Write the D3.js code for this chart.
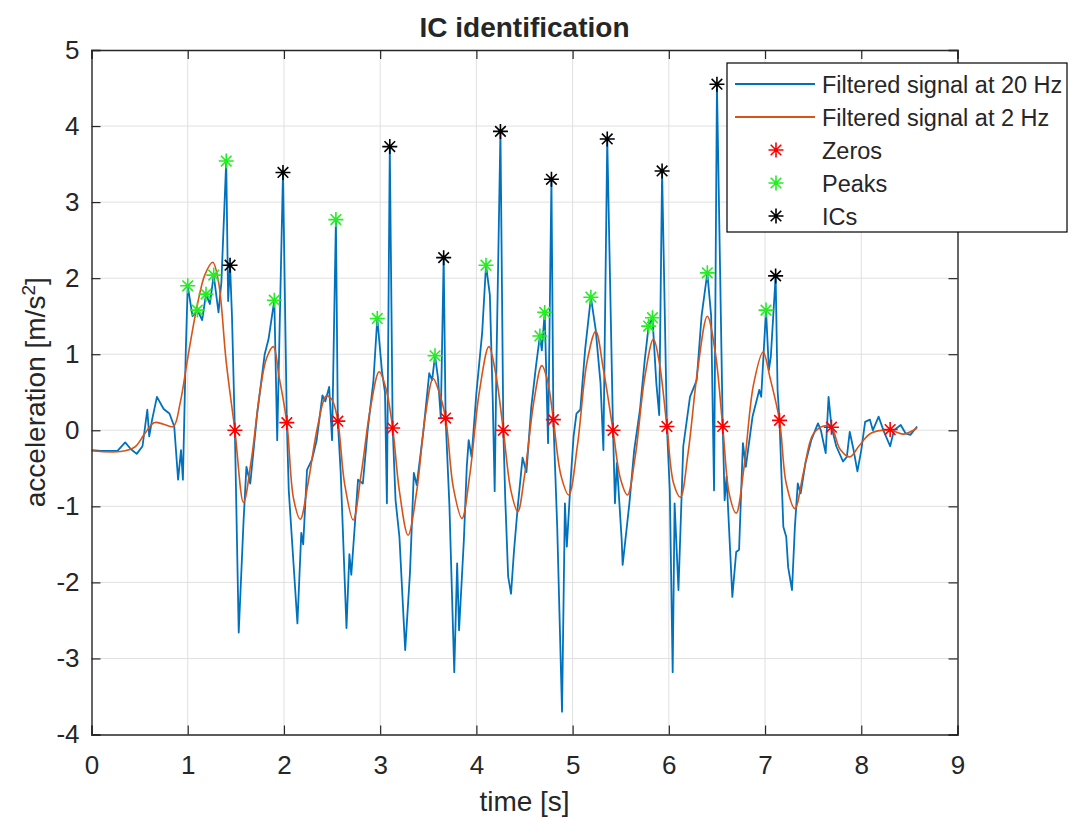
<!DOCTYPE html>
<html>
<head>
<meta charset="utf-8">
<script src="https://cdn.jsdelivr.net/npm/d3@7"></script>
<style>
  body { margin: 0; background: #fff; }
  text { font-family: "Liberation Sans", Arial, sans-serif; fill: #262626; }
</style>
</head>
<body>
<div id="container"></div>
<script>
// 20 Hz filtered signal [time, value]
const sig20 = [
  [0.00,-0.26],[0.10,-0.27],[0.27,-0.27],[0.35,-0.16],[0.41,-0.25],[0.47,-0.31],[0.53,-0.21],[0.58,0.27],
  [0.60,-0.08],[0.63,0.14],[0.68,0.44],[0.75,0.28],[0.81,0.22],[0.86,0.05],[0.90,-0.65],[0.93,-0.26],
  [0.95,-0.65],[0.98,1.05],[1.00,1.90],[1.05,1.50],[1.10,1.58],[1.15,1.45],[1.19,1.79],[1.23,1.66],
  [1.27,2.04],[1.32,1.55],[1.35,1.95],[1.40,3.54],[1.42,1.70],[1.44,2.17],[1.46,1.50],[1.49,0.00],
  [1.53,-2.66],[1.58,-1.20],[1.61,-0.48],[1.65,-0.70],[1.72,0.20],[1.80,1.00],[1.84,1.20],[1.90,1.71],
  [1.93,-0.13],[1.99,3.39],[2.03,0.10],[2.05,-0.79],[2.14,-2.54],[2.18,-1.35],[2.20,-1.50],[2.24,-0.52],
  [2.29,-0.39],[2.34,-0.13],[2.40,0.46],[2.43,0.38],[2.47,0.57],[2.50,-0.13],[2.54,2.77],[2.56,0.12],
  [2.59,-0.56],[2.65,-2.60],[2.68,-1.63],[2.70,-1.90],[2.77,-0.65],[2.82,-0.70],[2.87,0.00],[2.93,0.65],
  [2.97,1.47],[3.02,0.76],[3.05,0.50],[3.07,-0.96],[3.10,3.73],[3.13,0.03],[3.16,-0.92],[3.20,-1.40],
  [3.26,-2.89],[3.31,-1.87],[3.35,-0.56],[3.38,-0.72],[3.45,0.00],[3.51,0.75],[3.54,0.66],[3.57,0.98],
  [3.60,0.70],[3.63,0.17],[3.66,2.27],[3.68,0.16],[3.72,-1.00],[3.77,-3.18],[3.80,-1.75],[3.82,-2.63],
  [3.87,-1.44],[3.90,-0.48],[3.92,-0.13],[3.95,-0.35],[4.00,0.49],[4.06,1.28],[4.10,2.17],[4.14,1.78],
  [4.17,0.40],[4.19,-0.80],[4.21,1.00],[4.25,3.93],[4.28,0.00],[4.30,-0.90],[4.33,-1.92],[4.36,-2.15],
  [4.39,-1.60],[4.43,-1.00],[4.48,-0.36],[4.52,-0.55],[4.57,0.30],[4.62,0.85],[4.66,1.24],[4.68,1.05],
  [4.71,1.55],[4.745,-0.17],[4.78,3.30],[4.80,0.14],[4.84,-1.27],[4.89,-3.70],[4.92,-0.96],[4.94,-1.53],
  [4.98,-0.65],[5.01,-0.08],[5.04,0.22],[5.08,0.27],[5.13,1.06],[5.19,1.75],[5.24,1.32],[5.29,0.62],
  [5.32,-0.26],[5.36,3.83],[5.42,0.00],[5.44,-0.96],[5.46,-0.43],[5.51,-1.44],[5.52,-1.77],[5.56,-1.31],
  [5.59,-0.96],[5.64,-0.26],[5.70,0.27],[5.75,0.93],[5.79,1.37],[5.83,1.48],[5.87,0.62],[5.90,0.20],
  [5.93,3.41],[5.98,0.05],[6.01,-0.79],[6.04,-3.18],[6.06,-0.96],[6.10,-2.10],[6.15,-0.21],[6.22,0.44],
  [6.29,0.66],[6.34,1.50],[6.40,2.07],[6.44,1.50],[6.47,-0.79],[6.50,4.55],[6.56,0.05],[6.58,-0.92],
  [6.60,-0.61],[6.66,-2.19],[6.70,-1.60],[6.73,-1.57],[6.77,-0.17],[6.80,-0.48],[6.87,0.18],[6.94,0.53],
  [6.96,0.44],[7.01,1.58],[7.04,0.79],[7.06,0.97],[7.11,2.03],[7.13,0.53],[7.15,0.13],[7.19,-1.27],
  [7.22,-1.40],[7.24,-1.80],[7.28,-2.10],[7.31,-1.27],[7.34,-0.70],[7.37,-0.83],[7.42,-0.43],[7.48,-0.13],
  [7.55,0.09],[7.58,0.00],[7.63,-0.30],[7.66,0.44],[7.69,0.05],[7.74,-0.21],[7.81,-0.41],[7.85,-0.35],
  [7.88,-0.02],[7.92,-0.26],[7.96,-0.54],[8.00,-0.26],[8.04,0.11],[8.09,0.14],[8.12,0.00],[8.18,0.18],
  [8.23,0.00],[8.30,-0.21],[8.34,0.00],[8.41,0.07],[8.46,-0.04],[8.51,-0.06],[8.58,0.05]
];

// 2 Hz filtered signal [time, value]
const sig2 = [
  [0.00,-0.27],[0.30,-0.28],[0.45,-0.22],[0.55,-0.05],[0.65,0.10],[0.75,0.08],[0.85,0.05],[0.92,0.35],
  [1.00,0.95],[1.10,1.65],[1.18,2.05],[1.26,2.21],[1.32,1.95],[1.40,0.90],[1.49,0.00],[1.58,-0.95],
  [1.66,-0.40],[1.75,0.50],[1.82,0.95],[1.89,1.10],[1.95,0.70],[2.03,0.10],[2.10,-0.90],[2.17,-1.17],
  [2.25,-0.70],[2.35,0.05],[2.44,0.45],[2.50,0.40],[2.56,0.12],[2.63,-0.70],[2.72,-1.18],[2.80,-0.60],
  [2.90,0.30],[2.99,0.77],[3.06,0.55],[3.13,0.03],[3.20,-0.80],[3.29,-1.38],[3.38,-0.80],[3.47,0.20],
  [3.55,0.68],[3.60,0.55],[3.68,0.16],[3.76,-0.75],[3.85,-1.16],[3.93,-0.60],[4.03,0.50],[4.13,1.10],
  [4.20,0.75],[4.28,0.00],[4.36,-0.80],[4.43,-1.07],[4.50,-0.60],[4.60,0.40],[4.68,0.85],[4.74,0.65],
  [4.80,0.14],[4.88,-0.60],[4.96,-0.85],[5.05,-0.20],[5.15,0.90],[5.24,1.30],[5.32,0.80],[5.42,0.00],
  [5.50,-0.65],[5.57,-0.85],[5.65,-0.35],[5.75,0.70],[5.84,1.20],[5.90,0.90],[5.98,0.05],[6.05,-0.70],
  [6.12,-0.88],[6.20,-0.30],[6.30,0.80],[6.40,1.50],[6.48,1.05],[6.56,0.05],[6.63,-0.85],[6.70,-1.09],
  [6.78,-0.50],[6.88,0.60],[6.98,1.03],[7.05,0.70],[7.15,0.13],[7.22,-0.70],[7.31,-1.03],[7.40,-0.55],
  [7.50,-0.05],[7.62,0.06],[7.69,0.04],[7.78,-0.25],[7.88,-0.35],[7.98,-0.20],[8.10,-0.04],[8.30,0.00],
  [8.44,-0.05],[8.58,0.03]
];

const zeros = [[1.49,0.00],[2.03,0.10],[2.56,0.12],[3.13,0.03],[3.68,0.16],[4.28,0.00],[4.80,0.14],
  [5.42,0.00],[5.98,0.05],[6.56,0.05],[7.15,0.13],[7.69,0.04],[8.30,0.01]];
const peaks = [[1.00,1.90],[1.10,1.58],[1.19,1.79],[1.27,2.04],[1.40,3.54],[1.90,1.71],[2.54,2.77],
  [2.97,1.47],[3.57,0.98],[4.10,2.17],[4.66,1.24],[4.71,1.55],[5.19,1.75],[5.79,1.37],[5.83,1.48],
  [6.40,2.07],[7.01,1.58]];
const ics = [[1.44,2.17],[1.99,3.39],[3.10,3.73],[3.66,2.27],[4.25,3.93],[4.78,3.30],[5.36,3.83],
  [5.93,3.41],[6.50,4.55],[7.11,2.03]];

const xTicks = [0,1,2,3,4,5,6,7,8,9];
const yTicks = [-4,-3,-2,-1,0,1,2,3,4,5];

const w = 1079, h = 820;
const mLeft = 91.5, mRight = 957.5, mTop = 50, mBottom = 734.5;
const axisColor = '#262626';

var xScale = d3.scaleLinear().domain([0, 9]).range([mLeft, mRight]);
var yScale = d3.scaleLinear().domain([-4, 5]).range([mBottom, mTop]);

const svg = d3.select("#container").append("svg")
  .attr("width", w).attr("height", h);

// grid
svg.append("g").selectAll("line").data(xTicks.slice(1, -1)).enter().append("line")
  .attr("x1", d => xScale(d)).attr("x2", d => xScale(d))
  .attr("y1", mTop).attr("y2", mBottom)
  .attr("stroke", "#e0e0e0").attr("stroke-width", 1);
svg.append("g").selectAll("line").data(yTicks.slice(1, -1)).enter().append("line")
  .attr("y1", d => yScale(d)).attr("y2", d => yScale(d))
  .attr("x1", mLeft).attr("x2", mRight)
  .attr("stroke", "#e0e0e0").attr("stroke-width", 1);

svg.append("clipPath").attr("id", "clip").append("rect")
  .attr("x", mLeft).attr("y", mTop).attr("width", mRight - mLeft).attr("height", mBottom - mTop);

var line = d3.line().x(d => xScale(d[0])).y(d => yScale(d[1]));
var smooth = d3.line().x(d => xScale(d[0])).y(d => yScale(d[1])).curve(d3.curveCatmullRom.alpha(0.5));
var plot = svg.append("g").attr("clip-path", "url(#clip)");

plot.append("path").datum(sig20)
  .attr("d", line).attr("fill", "none")
  .attr("stroke", "#0072BD").attr("stroke-width", 1.8).attr("stroke-linejoin", "round");
plot.append("path").datum(sig2)
  .attr("d", smooth).attr("fill", "none")
  .attr("stroke", "#D95319").attr("stroke-width", 1.6).attr("stroke-linejoin", "round");

// asterisk marker like matlab '*'
function star(g, x, y, color) {
  const r = 7.5, q = 5.3;
  const p = "M" + (x - r) + "," + y + "H" + (x + r) + "M" + x + "," + (y - r) + "V" + (y + r) +
    "M" + (x - q) + "," + (y - q) + "L" + (x + q) + "," + (y + q) +
    "M" + (x - q) + "," + (y + q) + "L" + (x + q) + "," + (y - q);
  g.append("path").attr("d", p).attr("stroke", color).attr("stroke-width", 1.6).attr("fill", "none");
}
[[zeros, "#ff0000"], [peaks, "#22ee22"], [ics, "#000000"]].forEach(function(s) {
  var g = svg.append("g");
  s[0].forEach(d => star(g, xScale(d[0]), yScale(d[1]), s[1]));
});

// axes, matlab box style with inward ticks
const fmt = d => String(d);
const xAxis = d3.axisBottom(xScale).tickValues(xTicks).tickSize(-9).tickPadding(21).tickFormat(fmt);
const yAxis = d3.axisLeft(yScale).tickValues(yTicks).tickSize(-9).tickPadding(12).tickFormat(fmt);

var gx = svg.append("g").attr("transform", "translate(0," + mBottom + ")").call(xAxis);
var gy = svg.append("g").attr("transform", "translate(" + mLeft + ",0)").call(yAxis);
svg.append("g").attr("transform", "translate(0," + mTop + ")")
  .call(d3.axisTop(xScale).tickValues(xTicks).tickSize(-9).tickFormat(""));
svg.append("g").attr("transform", "translate(" + mRight + ",0)")
  .call(d3.axisRight(yScale).tickValues(yTicks).tickSize(-9).tickFormat(""));

svg.selectAll(".domain").attr("stroke", axisColor).attr("stroke-width", 1.4);
svg.selectAll(".tick line").attr("stroke", axisColor).attr("stroke-width", 1.2);
gx.selectAll("text").style("font-size", "26px").attr("fill", axisColor);
gy.selectAll("text").style("font-size", "26px").attr("fill", axisColor);

svg.append("text").attr("x", (mLeft + mRight) / 2).attr("y", 37)
  .attr("text-anchor", "middle").style("font-size", "28px").style("font-weight", "bold")
  .attr("fill", "#000").text("IC identification");

svg.append("text").attr("x", (mLeft + mRight) / 2).attr("y", 811)
  .attr("text-anchor", "middle").style("font-size", "28px").text("time [s]");

var yl = svg.append("text")
  .attr("transform", "translate(45," + ((mTop + mBottom) / 2) + ") rotate(-90)")
  .attr("text-anchor", "middle").style("font-size", "28px");
yl.append("tspan").text("acceleration [m/s");
yl.append("tspan").attr("baseline-shift", "super").style("font-size", "19px").text("2");
yl.append("tspan").text("]");

// legend
const legendItems = [
  ["Filtered signal at 20 Hz", "line", "#0072BD"],
  ["Filtered signal at 2 Hz", "line", "#D95319"],
  ["Zeros", "star", "#ff0000"],
  ["Peaks", "star", "#22ee22"],
  ["ICs", "star", "#000000"]
];
var lg = svg.append("g");
lg.append("rect").attr("x", 727).attr("y", 63).attr("width", 340).attr("height", 169)
  .attr("fill", "#fff").attr("stroke", "#000").attr("stroke-width", 1.2);
legendItems.forEach(function(d, i) {
  var y = 84 + i * 33;
  if (d[1] == "line") {
    lg.append("line").attr("x1", 735).attr("x2", 815).attr("y1", y).attr("y2", y)
      .attr("stroke", d[2]).attr("stroke-width", 1.8);
  } else {
    star(lg, 776, y, d[2]);
  }
  lg.append("text").attr("x", 822).attr("y", y + 8.5).style("font-size", "23.5px").text(d[0]);
});
</script>
</body>
</html>
